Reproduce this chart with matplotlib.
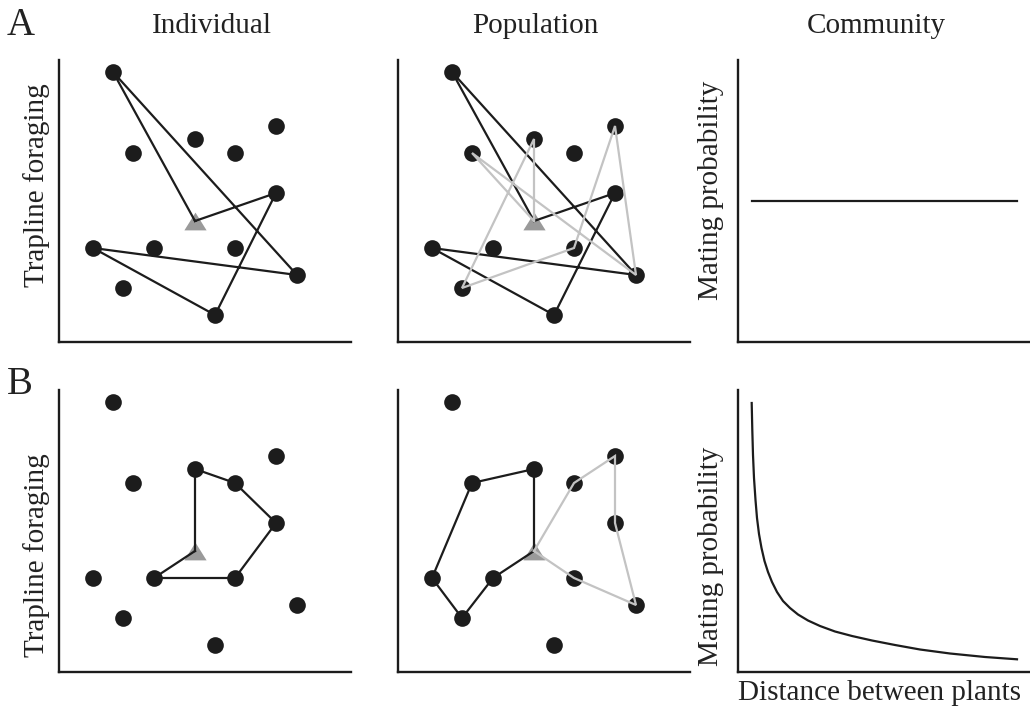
import matplotlib
matplotlib.use("Agg")
import matplotlib.pyplot as plt

plt.rcParams['font.family'] = ['Liberation Serif', 'DejaVu Serif']

# ---------------- data ----------------
column_titles = ["Individual", "Population", "Community"]
row_labels = ["A", "B"]
ylabel_left = "Trapline foraging"
ylabel_right = "Mating probability"
xlabel_right = "Distance between plants"

# flower (plant) positions, same layout in all four foraging panels
plant_x = [54, 74, 136, 176, 217, 217, 34, 95, 176, 238, 64, 156]
plant_y = [270, 189, 203, 189, 216, 149, 94, 94, 94, 67, 54, 27]
# nest position
nest_x = 136
nest_y = 121

# routes: sequences of plant indices, starting and ending at the nest (-1)
route_A_black = [-1, 0, 9, 6, 11, 5, -1]
route_A_gray = [-1, 2, 10, 8, 4, 9, 1, -1]
route_B_black_ind = [-1, 2, 3, 5, 8, 7, -1]
route_B_black_pop = [-1, 2, 1, 6, 10, 7, -1]
route_B_gray_pop = [-1, 3, 4, 5, 9, 8, -1]

# community panels
flat_x = [14, 279]
flat_y = [141, 141]
curve_x = [13.7, 14.3, 15, 16, 17.5, 19, 21, 23.5, 26.5, 30, 34, 39, 45, 52,
           60, 70, 82, 97, 114, 134, 157, 182, 212, 247, 279]
curve_y = [269, 242, 217, 194, 172, 154, 138, 124, 111, 100, 90, 80, 71, 64,
           57.5, 51.5, 46, 40.5, 36, 31.5, 27, 22.5, 18.5, 15, 12.7]

# ---------------- style ----------------
W, H = 1030, 712
DARK = "#1c1c1c"
GRAY_LINE = "#c3c3c3"
GRAY_TRI = "#9a9a9a"
FS = 21

fig = plt.figure(figsize=(W / 100, H / 100), dpi=100)


def fx(px):
    return px / W


def fy(py):
    return 1 - py / H


col_left = [59, 398, 738]
row_bottom = [342, 672]
aw, ah = 292, 282

axes = {}
for r in range(2):
    for c in range(3):
        ax = fig.add_axes([fx(col_left[c]), fy(row_bottom[r]), aw / W, ah / H])
        ax.set_xlim(0, aw)
        ax.set_ylim(0, ah)
        for s in ["top", "right"]:
            ax.spines[s].set_visible(False)
        for s in ["left", "bottom"]:
            ax.spines[s].set_linewidth(1.7)
            ax.spines[s].set_color(DARK)
        ax.set_xticks([])
        ax.set_yticks([])
        ax.patch.set_alpha(0)
        axes[(r, c)] = ax

tri = [(0, 0.8), (-1, -0.8), (1, -0.8), (0, 0.8)]


def coords(route):
    xs, ys = [], []
    for i in route:
        if i < 0:
            xs.append(nest_x); ys.append(nest_y)
        else:
            xs.append(plant_x[i]); ys.append(plant_y[i])
    return xs, ys


def forage(ax, routes):
    ax.plot(plant_x, plant_y, 'o', color=DARK, markersize=12, zorder=2,
            markeredgewidth=0, clip_on=False)
    ax.plot([nest_x], [nest_y], marker=tri, color=GRAY_TRI, markersize=16,
            markeredgewidth=0, zorder=3, linestyle='none')
    for route, col in routes:
        xs, ys = coords(route)
        ax.plot(xs, ys, color=col, lw=1.6, zorder=4, solid_joinstyle='miter')


forage(axes[(0, 0)], [(route_A_black, DARK)])
forage(axes[(0, 1)], [(route_A_black, DARK), (route_A_gray, GRAY_LINE)])
forage(axes[(1, 0)], [(route_B_black_ind, DARK)])
forage(axes[(1, 1)], [(route_B_black_pop, DARK), (route_B_gray_pop, GRAY_LINE)])

axes[(0, 2)].plot(flat_x, flat_y, color=DARK, lw=1.6)
axes[(1, 2)].plot(curve_x, curve_y, color=DARK, lw=1.6,
                  solid_joinstyle='round')

TXT = "#222222"
# column titles
fig.text(fx(212), fy(33), column_titles[0], ha='center', va='baseline',
         fontsize=FS, color=TXT)
fig.text(fx(535), fy(33), column_titles[1], ha='center', va='baseline',
         fontsize=FS, color=TXT)
fig.text(fx(876), fy(33), column_titles[2], ha='center', va='baseline',
         fontsize=FS, color=TXT)
# row letters
fig.text(fx(7), fy(35), row_labels[0], ha='left', va='baseline',
         fontsize=28, color=TXT)
fig.text(fx(7), fy(394), row_labels[1], ha='left', va='baseline',
         fontsize=28, color=TXT)
# y labels
for yc in (185, 555):
    fig.text(fx(37), fy(yc), ylabel_left, rotation=90, ha='center',
             va='center', fontsize=FS, color=TXT)
for yc in (190, 556):
    fig.text(fx(711), fy(yc), ylabel_right, rotation=90, ha='center',
             va='center', fontsize=FS, color=TXT)
# x label
fig.text(fx(880), fy(693), xlabel_right, ha='center', va='center',
         fontsize=FS, color=TXT)

fig.savefig("out.png", dpi=100)
